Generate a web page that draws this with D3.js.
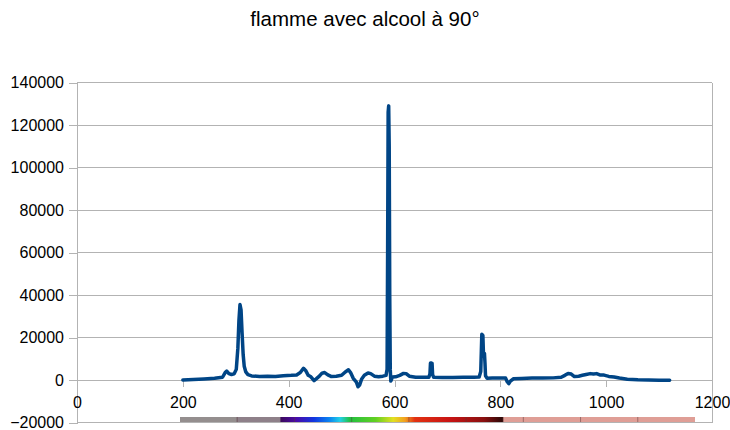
<!DOCTYPE html>
<html>
<head>
<meta charset="utf-8">
<script src="https://cdn.jsdelivr.net/npm/d3@7"></script>
<style>
  html, body { margin: 0; padding: 0; background: #ffffff; }
  svg { display: block; }
  text { font-family: "Liberation Sans", Arial, sans-serif; fill: #000; }
</style>
</head>
<body>
<svg id="chart" width="730" height="430"></svg>
<script>
// Emission spectrum of an alcohol flame (wavelength in nm, intensity in counts)
const title = "flamme avec alcool à 90°";

const wavelengths = [
  200, 220, 240, 260, 275, 280, 283, 287, 292, 297,
  301, 304, 306, 308, 310, 312, 314, 316, 319, 323,
  330, 345, 360, 375, 390, 405, 415, 422, 428, 432,
  437, 442, 448, 452, 458, 463, 468, 474, 480, 490,
  500, 507, 513, 517, 522, 528, 531, 534, 538, 543,
  550, 555, 562, 570, 578, 584, 586, 587, 588, 589,
  590, 591, 592, 593, 596, 602, 610, 617, 622, 628,
  640, 655, 665, 667, 668, 670, 671, 672, 674, 690,
  710, 730, 750, 760, 763, 765, 767, 768, 770, 771,
  772, 775, 785, 800, 810, 813, 816, 819, 825, 840,
  860, 880, 900, 915, 922, 928, 934, 940, 948, 955,
  962, 970, 976, 982, 988, 996, 1005, 1015, 1025, 1040,
  1060, 1080, 1100, 1120
];

const intensities = [
  0, 200, 500, 800, 1300, 3500, 4200, 3000, 2600, 2900,
  5000, 15000, 28000, 35500, 33000, 22000, 12000, 6500, 3800, 2500,
  1900, 1700, 1800, 1600, 2000, 2200, 2400, 3500, 5500, 4500,
  2200, 1500, -300, 500, 1800, 3200, 3500, 2400, 1700, 1800,
  2200, 3800, 4800, 3500, 800, -1000, -3200, -2400, 500, 2200,
  3300, 3000, 1800, 1500, 1800, 2200, 5000, 60000, 126000, 129000,
  110000, 40000, 5000, -500, 1400, 1500, 2200, 3100, 3000, 1800,
  1300, 1300, 1300, 3000, 8000, 8000, 7800, 2500, 1300, 1200,
  1200, 1300, 1300, 1400, 4000, 21500, 21000, 13000, 12500, 8000,
  2000, 800, 900, 1000, 900, -800, -1700, -500, 600, 700,
  900, 900, 1000, 1300, 2200, 3100, 2800, 1600, 1800, 2200,
  2600, 3000, 2800, 3000, 2400, 2300, 1700, 1400, 900, 400,
  100, 0, -100, -100
];

const xTicks = [0, 200, 400, 600, 800, 1000, 1200];
const yTicks = [-20000, 0, 20000, 40000, 60000, 80000, 100000, 120000, 140000];

// Visible-spectrum strip drawn under the axis (offset along the strip, colour)
const spectrumStops = [
  [0.000, "#948e8e"], [0.108, "#948e8e"], [0.110, "#8e8089"], [0.194, "#8e8089"],
  [0.196, "#3c0a5c"], [0.225, "#4a0aa8"], [0.260, "#1236e0"], [0.290, "#0a84f0"],
  [0.311, "#22d0e6"], [0.330, "#22c040"], [0.380, "#62d022"], [0.414, "#e2e022"],
  [0.437, "#f2a020"], [0.456, "#e23212"], [0.524, "#c81414"], [0.590, "#8a1010"],
  [0.626, "#2c0808"], [0.629, "#df9e96"], [1.000, "#df9e96"]
];
const spectrumTickCount = 9;

const svg = d3.select("#chart");
const plotLeft = 77, plotRight = 712, plotTop = 82.5, plotBottom = 422.5;

const x = d3.scaleLinear().domain([0, 1200]).range([plotLeft, plotRight]);
const y = d3.scaleLinear().domain([-20000, 140000]).range([plotBottom, plotTop]);

const gridColor = "#b3b3b3";

// Title
svg.append("text")
  .attr("x", 365).attr("y", 26)
  .attr("text-anchor", "middle")
  .style("font-size", "20.5px")
  .text(title);

// Horizontal grid lines
svg.append("g")
  .selectAll("line")
  .data(yTicks)
  .join("line")
  .attr("x1", plotLeft).attr("x2", plotRight)
  .attr("y1", d => y(d)).attr("y2", d => y(d))
  .attr("stroke", gridColor).attr("stroke-width", 1)
  .attr("shape-rendering", "crispEdges");

// Y axis
const yAxis = d3.axisLeft(y).tickValues(yTicks).tickSize(8).tickPadding(5)
  .tickFormat(d3.format("d"));
const gy = svg.append("g").attr("transform", `translate(${plotLeft},0)`).call(yAxis);
gy.select(".domain").attr("stroke", gridColor).attr("shape-rendering", "crispEdges");
gy.selectAll(".tick line").attr("stroke", gridColor).attr("shape-rendering", "crispEdges");
gy.selectAll(".tick text")
  .style("font-size", "16px")
  .style("font-family", "'Liberation Sans', Arial, sans-serif")
  .attr("fill", "#000");

// Right frame line
svg.append("line")
  .attr("x1", plotRight).attr("x2", plotRight).attr("y1", plotTop).attr("y2", plotBottom)
  .attr("stroke", gridColor).attr("shape-rendering", "crispEdges");

// X axis crossing at zero
const xAxis = d3.axisBottom(x).tickValues(xTicks).tickSize(7).tickPadding(10)
  .tickFormat(d3.format("d"));
const gx = svg.append("g").attr("transform", `translate(0,${y(0)})`).call(xAxis);
gx.select(".domain").remove();
gx.selectAll(".tick line").attr("stroke", gridColor).attr("shape-rendering", "crispEdges");
gx.selectAll(".tick text")
  .style("font-size", "16px")
  .style("font-family", "'Liberation Sans', Arial, sans-serif")
  .attr("fill", "#000");

// Spectrum colour strip
const stripX0 = 180, stripX1 = 695, stripY = 417, stripH = 5;
const defs = svg.append("defs");
const grad = defs.append("linearGradient").attr("id", "spectrumGrad")
  .attr("x1", "0%").attr("x2", "100%").attr("y1", "0%").attr("y2", "0%");
grad.selectAll("stop").data(spectrumStops).join("stop")
  .attr("offset", d => d[0]).attr("stop-color", d => d[1]);
svg.append("rect")
  .attr("x", stripX0).attr("y", stripY)
  .attr("width", stripX1 - stripX0).attr("height", stripH)
  .attr("fill", "url(#spectrumGrad)");
svg.append("g").selectAll("line")
  .data(d3.range(1, spectrumTickCount))
  .join("line")
  .attr("x1", i => stripX0 + i * (stripX1 - stripX0) / spectrumTickCount)
  .attr("x2", i => stripX0 + i * (stripX1 - stripX0) / spectrumTickCount)
  .attr("y1", stripY).attr("y2", stripY + stripH)
  .attr("stroke", "#5a3a3a").attr("stroke-opacity", 0.5).attr("stroke-width", 1);

// Spectrum line
const data = wavelengths.map((w, i) => [w, intensities[i]]);
const line = d3.line().x(d => x(d[0])).y(d => y(d[1]));
svg.append("path")
  .datum(data)
  .attr("d", line)
  .attr("fill", "none")
  .attr("stroke", "#004586")
  .attr("stroke-width", 3.5)
  .attr("stroke-linejoin", "round")
  .attr("stroke-linecap", "round");
</script>
</body>
</html>
